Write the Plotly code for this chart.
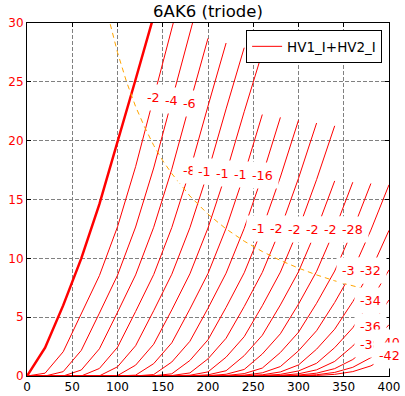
import plotly.graph_objects as go

# plate voltage samples (V)
vp = [0, 20, 40, 60, 80, 100, 120, 140, 160, 180, 200, 220, 240, 260, 280, 300, 320, 340, 360, 380, 400]

grid_volts = [0, -2, -4, -6, -8, -10, -12, -14, -16, -18, -20, -22, -24, -26, -28, -30, -32, -34, -36, -38, -40, -42]

# plate current (mA), one list per grid voltage, starting at vp[0]
i_g0 = [0, 2.4, 6.0, 10.0, 14.6, 19.8, 25.2, 30.6]
i_m2 = [0, 0.24, 2.06, 5.27, 8.53, 12.68, 17.79, 23.66, 29.5, 35.4]
i_m4 = [0, 0, 0.37, 2.18, 5.34, 8.56, 12.66, 17.68, 23.42, 29.1, 34.9]
i_m6 = [0, 0, 0, 0.51, 2.31, 5.41, 8.59, 12.64, 17.57, 23.18, 28.7]
i_m8 = [0, 0, 0, 0.003, 0.64, 2.44, 5.48, 8.62, 12.62, 17.46, 22.94, 28.3]
i_m10 = [0, 0, 0, 0, 0.013, 0.78, 2.57, 5.55, 8.65, 12.6, 17.35, 22.7, 27.9]
i_m12 = [0, 0, 0, 0, 0, 0.036, 0.92, 2.70, 5.62, 8.68, 12.58, 17.24, 22.46, 27.5]
i_m14 = [0, 0, 0, 0, 0, 0.003, 0.072, 1.05, 2.82, 5.69, 8.71, 12.56, 17.13, 22.22]
i_m16 = [0, 0, 0, 0, 0, 0, 0.008, 0.122, 1.19, 2.95, 5.76, 8.74, 12.54, 17.02, 21.98]
i_m18 = [0, 0, 0, 0, 0, 0, 0.001, 0.019, 0.185, 1.32, 3.08, 5.83, 8.77, 12.52, 16.91, 21.74]
i_m20 = [0, 0, 0, 0, 0, 0, 0, 0.003, 0.038, 0.261, 1.46, 3.21, 5.9, 8.8, 12.5, 16.8, 21.5]
i_m22 = [0, 0, 0, 0, 0, 0, 0, 0, 0.007, 0.065, 0.349, 1.6, 3.34, 5.97, 8.83, 12.48, 16.69, 21.26]
i_m24 = [0, 0, 0, 0, 0, 0, 0, 0, 0.001, 0.015, 0.10, 0.447, 1.73, 3.46, 6.04, 8.86, 12.46, 16.58]
i_m26 = [0, 0, 0, 0, 0, 0, 0, 0, 0, 0.004, 0.027, 0.148, 0.556, 1.87, 3.59, 6.11, 8.89, 12.44, 16.47]
i_m28 = [0, 0, 0, 0, 0, 0, 0, 0, 0, 0.001, 0.007, 0.045, 0.204, 0.674, 2.0, 3.72, 6.18, 8.92, 12.42, 16.36]
i_m30 = [0, 0, 0, 0, 0, 0, 0, 0, 0, 0, 0.002, 0.013, 0.07, 0.27, 0.802, 2.14, 3.85, 6.25, 8.95, 12.4, 16.25]
i_m32 = [0, 0, 0, 0, 0, 0, 0, 0, 0, 0, 0, 0.004, 0.023, 0.101, 0.345, 0.939, 2.28, 3.98, 6.32, 8.98, 12.38]
i_m34 = [0, 0, 0, 0, 0, 0, 0, 0, 0, 0, 0, 0.001, 0.008, 0.037, 0.14, 0.43, 1.08, 2.41, 4.1, 6.39, 9.01]
i_m36 = [0, 0, 0, 0, 0, 0, 0, 0, 0, 0, 0, 0, 0.003, 0.014, 0.055, 0.187, 0.524, 1.24, 2.55, 4.23, 6.46]
i_m38 = [0, 0, 0, 0, 0, 0, 0, 0, 0, 0, 0, 0, 0, 0.006, 0.022, 0.078, 0.241, 0.627, 1.40, 2.68, 4.36]
i_m40 = [0, 0, 0, 0, 0, 0, 0, 0, 0, 0, 0, 0, 0, 0.002, 0.009, 0.032, 0.107, 0.304, 0.739, 1.56, 2.82]
i_m42 = [0, 0, 0, 0, 0, 0, 0, 0, 0, 0, 0, 0, 0, 0, 0.003, 0.013, 0.045, 0.14, 0.374, 0.859, 1.74]

curves = [i_g0, i_m2, i_m4, i_m6, i_m8, i_m10, i_m12, i_m14, i_m16, i_m18, i_m20,
          i_m22, i_m24, i_m26, i_m28, i_m30, i_m32, i_m34, i_m36, i_m38, i_m40, i_m42]

# index (into vp) of the point each grid-voltage label sits on
label_idx = [None, 7, 8, 9, 9, 10, 11, 12, 13, 13, 14, 15, 16, 17, 18, 18, 19, 19, 19, 19, 20, 20]

# maximum plate dissipation curve (2.75 W)
pd_v = [92, 100, 110, 120, 130, 140, 150, 160, 180, 200, 220, 240, 260, 280, 300, 320, 340, 360, 380, 390]
pd_i = [29.9, 27.5, 25.0, 22.9, 21.15, 19.6, 18.3, 17.2, 15.3, 13.75, 12.5, 11.46, 10.58, 9.82, 9.17, 8.59, 8.09, 7.64, 7.24, 7.05]

legend_name = "HV1_I+HV2_I"
FONT = "DejaVu Sans"

fig = go.Figure()
for k, cur in enumerate(curves):
    fig.add_trace(go.Scatter(
        x=vp[:len(cur)], y=cur, mode="lines",
        line=dict(color="red", width=2.5 if k == 0 else 1),
        name=legend_name, showlegend=(k == 1), hoverinfo="skip"))

fig.add_trace(go.Scatter(
    x=pd_v, y=pd_i, mode="lines",
    line=dict(color="orange", width=1, dash="5px,4px"),
    showlegend=False, hoverinfo="skip"))

annotations = []
for k, cur in enumerate(curves):
    j = label_idx[k]
    if j is None:
        continue
    annotations.append(dict(
        x=vp[j], y=cur[j], xref="x", yref="y", text=str(grid_volts[k]),
        showarrow=False, xanchor="center", yanchor="middle",
        font=dict(family=FONT, size=12.7, color="red"),
        bgcolor="white", borderpad=5))

fig.update_layout(
    width=405, height=396,
    margin=dict(l=27, r=16, t=23, b=20, autoexpand=False),
    paper_bgcolor="white", plot_bgcolor="white",
    font=dict(family=FONT, size=12, color="black"),
    title=dict(text="6AK6 (triode)", x=0.5, xref="paper", xanchor="center",
               y=1 - 11 / 396, yref="container", yanchor="middle",
               font=dict(family=FONT, size=16.5, color="black")),
    legend=dict(x=0.981, y=0.98, xanchor="right", yanchor="top",
                bgcolor="white", bordercolor="black", borderwidth=1,
                font=dict(family=FONT, size=13.5, color="black")),
    annotations=annotations,
    showlegend=True,
)
axis_common = dict(
    showline=True, linecolor="black", linewidth=1, mirror="ticks",
    ticks="inside", ticklen=4, tickcolor="black",
    showgrid=True, gridcolor="#808080", gridwidth=1, griddash="4px,2px",
    zeroline=False, automargin=False,
)
fig.update_xaxes(range=[0, 400], tickvals=[0, 50, 100, 150, 200, 250, 300, 350, 400],
                 tickfont=dict(family=FONT, size=12, color="black"), **axis_common)
fig.update_yaxes(range=[0, 30], tickvals=[0, 5, 10, 15, 20, 25, 30],
                 tickfont=dict(family=FONT, size=12, color="red"), **axis_common)

fig.write_html("out.html", config={"displayModeBar": False},
               post_script="document.body.style.margin='0';document.body.style.padding='0';")
